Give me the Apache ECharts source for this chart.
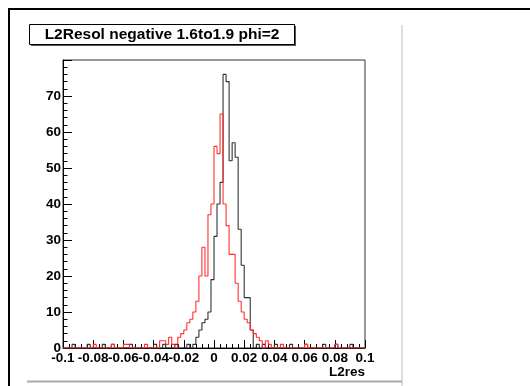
<!DOCTYPE html>
<html><head><meta charset="utf-8">
<script src="https://cdn.jsdelivr.net/npm/echarts@6/dist/echarts.min.js"></script>
<style>html,body{margin:0;padding:0;background:#fff;}#c{width:530px;height:386px;}</style>
</head><body><div id="c"></div>
<script>
const titleText = 'L2Resol negative 1.6to1.9 phi=2';
const xAxisName = 'L2res';
const binLow = -0.1;
const binHigh = 0.1;
const xTickStep = 0.02;
const yTickStep = 10;
const yMax = 80;
const blackCounts = [
0,0,0,1,0,0,0,0,1,0,
0,0,0,1,0,0,1,0,0,0,
0,0,1,0,0,0,0,0,0,0,
1,0,0,1,0,0,0,1,0,0,
0,1,0,1,3,5,7,8,10,19,
31,40,46,76,74,52,57,53,33,23,
14,14,5,0,1,0,1,0,0,0,
1,0,0,0,0,1,0,0,0,0,
1,0,0,0,0,0,1,0,0,0,
1,0,0,0,0,1,0,0,0,0
];
const redCounts = [
0,0,0,0,0,0,0,0,0,0,
1,0,0,0,0,0,1,0,0,0,
1,1,0,0,0,0,0,1,0,0,
0,0,2,2,1,3,1,0,3,4,
5,7,8,10,13,20,28,20,37,40,
56,54,65,40,34,26,26,18,13,10,
8,7,5,4,3,2,0,2,1,0,
0,0,1,0,0,0,0,0,0,0,
1,0,0,0,0,0,0,0,0,0,
1,0,0,0,0,0,0,0,0,0
];

function stepPoints(counts){
  const w = (binHigh - binLow) / counts.length;
  const pts = counts.map((v, i) => [binLow + w * i, v]);
  pts.push([binHigh, counts[counts.length - 1]]);
  return pts;
}

const FONT = '"Liberation Sans", Arial, Helvetica, sans-serif';
const chart = echarts.init(document.getElementById('c'), null, {renderer: 'canvas'});
chart.setOption({
  animation: false,
  backgroundColor: '#fff',
  grid: {left: 63, top: 60, width: 302, height: 288, show: true, borderColor: '#333', borderWidth: 1, backgroundColor: 'transparent'},
  xAxis: {
    type: 'value', min: binLow, max: binHigh, interval: xTickStep,
    axisLine: {show: true, onZero: false, lineStyle: {color: '#000', width: 1}},
    axisTick: {show: true, inside: true, length: 8, lineStyle: {color: '#000'}},
    minorTick: {show: true, splitNumber: 5, length: 4, lineStyle: {color: '#000'}},
    splitLine: {show: false},
    axisLabel: {margin: 3, color: '#000', fontSize: 13.5, fontWeight: 'bold', fontFamily: FONT,
      formatter: v => String(Math.round(v * 1000) / 1000)}
  },
  yAxis: {
    type: 'value', min: 0, max: yMax, interval: yTickStep,
    axisLine: {show: true, onZero: false, lineStyle: {color: '#000', width: 1}},
    axisTick: {show: true, inside: true, length: 9, lineStyle: {color: '#000'}},
    minorTick: {show: true, splitNumber: 5, length: 4.5, lineStyle: {color: '#000'}},
    splitLine: {show: false},
    axisLabel: {margin: 2, color: '#000', fontSize: 13.5, fontWeight: 'bold', fontFamily: FONT,
      formatter: v => (v >= yMax ? '' : String(v))}
  },
  series: [
    {type: 'line', step: 'end', data: stepPoints(blackCounts), showSymbol: false, symbol: 'none',
      lineStyle: {color: '#333', width: 1.1}, z: 3},
    {type: 'line', step: 'end', data: stepPoints(redCounts), showSymbol: false, symbol: 'none',
      lineStyle: {color: '#ff3030', width: 1.1}, z: 4}
  ],
  graphic: [
    {type: 'rect', shape: {x: 9, y: 9, width: 600, height: 500}, style: {fill: 'none', stroke: '#000', lineWidth: 2}, silent: true},
    {type: 'line', shape: {x1: 402, y1: 25, x2: 402, y2: 386}, style: {stroke: '#bbb', lineWidth: 1}, silent: true},
    {type: 'line', shape: {x1: 27, y1: 381.5, x2: 402, y2: 381.5}, style: {stroke: '#aaa', lineWidth: 2}, silent: true},
    {type: 'rect', shape: {x: 31, y: 26, width: 265, height: 20}, style: {fill: '#555', stroke: null}, silent: true},
    {type: 'rect', shape: {x: 29.5, y: 24.5, width: 265, height: 20}, style: {fill: '#fff', stroke: '#000', lineWidth: 1}, silent: true},
    {type: 'text', style: {text: titleText, x: 162, y: 35, font: 'bold 15.5px ' + FONT, fill: '#000', textAlign: 'center', textVerticalAlign: 'middle', align: 'center', verticalAlign: 'middle'}, silent: true},
    {type: 'text', style: {text: xAxisName, x: 365, y: 372, font: 'bold 13.5px ' + FONT, fill: '#000', textAlign: 'right', textVerticalAlign: 'middle', align: 'right', verticalAlign: 'middle'}, silent: true}
  ]
});
</script></body></html>
